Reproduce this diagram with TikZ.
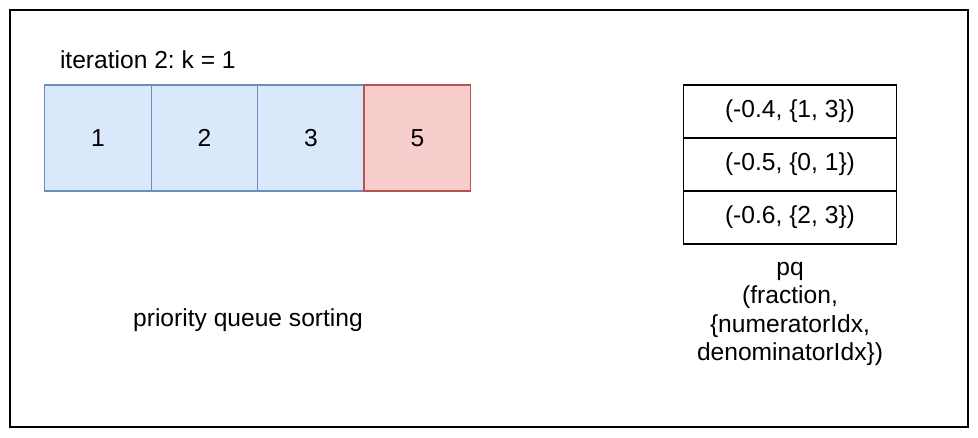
\documentclass[tikz,border=0pt]{standalone}
\usepackage{fontspec}
\setmainfont{Liberation Sans}
\usetikzlibrary{positioning}
\frenchspacing

\begin{document}
\begin{tikzpicture}[
  x=0.02cm,
  y=-0.02cm,
  line join=miter,
  every node/.style={font=\fontsize{14}{16}\selectfont, outer sep=0pt, inner sep=0pt},
  frame/.style={draw=black, line width=1.1pt},
  cell/.style={minimum width=2.13cm, minimum height=2.12cm, line width=0.8pt},
  slot/.style={draw=black, line width=1.1pt, minimum width=4.26cm, minimum height=1.06cm}
]
\definecolor{sortfill}{HTML}{DAE8FC}
\definecolor{sortdraw}{HTML}{6C8EBF}
\definecolor{popfill}{HTML}{F8CECC}
\definecolor{popdraw}{HTML}{B85450}
\tikzset{
  sorted/.style={cell, draw=sortdraw, fill=sortfill},
  popped/.style={cell, draw=popdraw, fill=popfill}
}

\useasboundingbox (0,0) rectangle (978,437);

% ------------------------------------------------------------------
% Outer frame
% ------------------------------------------------------------------
\draw[frame] (10,10) rectangle (968,427);

% ------------------------------------------------------------------
% Array being sorted
% ------------------------------------------------------------------
\node[anchor=west] (iter) at (60,60) {iteration 2: k = 1};

\node[sorted] (c1) at (98,138) {1};
\node[sorted, right=0pt of c1] (c2) {2};
\node[sorted, right=0pt of c2] (c3) {3};
\node[popped, right=0pt of c3] (c4) {5};

\node (caption) at (248,320) {priority queue sorting};

% ------------------------------------------------------------------
% Priority queue
% ------------------------------------------------------------------
\node[slot] (q1) at (790,111.5) {(-0.4, \{1, 3\})};
\node[slot, below=0pt of q1] (q2) {(-0.5, \{0, 1\})};
\node[slot, below=0pt of q2] (q3) {(-0.6, \{2, 3\})};

\node[align=center, font=\fontsize{14}{16.2}\selectfont] (pq) at (790,314)
  {pq\\(fraction,\\\{numeratorIdx,\\denominatorIdx\})};

\end{tikzpicture}
\end{document}
